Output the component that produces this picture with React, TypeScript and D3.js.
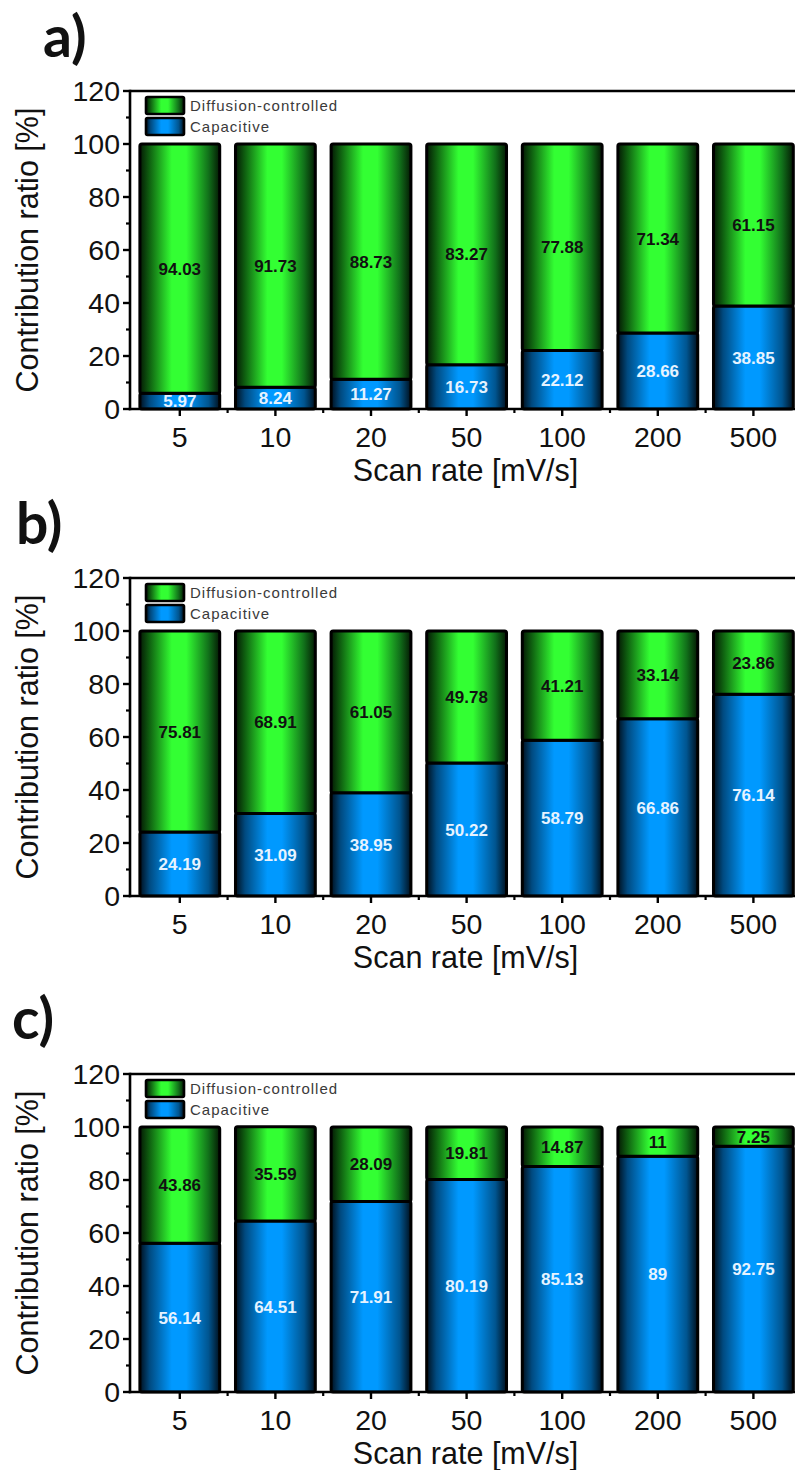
import React from "react";
import * as d3 from "d3";

// Scan rates (mV/s) shown along the x axis
const scanRates = ["5", "10", "20", "50", "100", "200", "500"];

// Panel a
const capacitiveA = [5.97, 8.24, 11.27, 16.73, 22.12, 28.66, 38.85];
const diffusionA = [94.03, 91.73, 88.73, 83.27, 77.88, 71.34, 61.15];

// Panel b
const capacitiveB = [24.19, 31.09, 38.95, 50.22, 58.79, 66.86, 76.14];
const diffusionB = [75.81, 68.91, 61.05, 49.78, 41.21, 33.14, 23.86];

// Panel c
const capacitiveC = [56.14, 64.51, 71.91, 80.19, 85.13, 89, 92.75];
const diffusionC = [43.86, 35.59, 28.09, 19.81, 14.87, 11, 7.25];

const yTicks = [0, 20, 40, 60, 80, 100, 120];
const yMinorTicks = [10, 30, 50, 70, 90, 110];
const legendLabels = ["Diffusion-controlled", "Capacitive"];

const W = 795;
const H = 1470;
const AXIS_FONT = "'Liberation Sans', Arial, Helvetica, sans-serif";

interface PanelProps {
  tag: string;
  tagX: number;
  tagY: number;
  top: number;
  capacitive: number[];
  diffusion: number[];
}

function Panel({ tag, tagX, tagY, top, capacitive, diffusion }: PanelProps) {
  const left = 130;
  const plotH = 318;
  const bottom = top + plotH;
  const step = 95.6;
  const right = left + 2 + step * scanRates.length;

  const x = d3
    .scaleBand<string>()
    .domain(scanRates)
    .range([left + 2, right])
    .paddingInner(0.165)
    .paddingOuter(0.0825);
  const y = d3.scaleLinear().domain([0, 120]).range([bottom, top]);

  const bw = x.bandwidth();
  const fmt = (v: number) => String(v);

  // minor x ticks sit halfway between neighbouring categories
  const xMinor = scanRates.slice(1).map((c, i) => {
    const a = (x(scanRates[i]) as number) + bw / 2;
    const b = (x(c) as number) + bw / 2;
    return (a + b) / 2;
  });

  return (
    <g>
      <text
        x={tagX}
        y={tagY}
        fontFamily="Lato, 'Open Sans', sans-serif"
        fontWeight={700}
        fontSize={57}
        fill="#111"
      >
        {tag}
      </text>

      {/* stacked bars */}
      {scanRates.map((c, i) => {
        const x0 = x(c) as number;
        const cap = capacitive[i];
        const dif = diffusion[i];
        const yCapTop = y(cap);
        const yDifTop = y(cap + dif);
        return (
          <g key={c}>
            <rect
              x={x0}
              y={yCapTop}
              width={bw}
              height={y(0) - yCapTop}
              rx={2}
              fill="url(#gradBlue)"
              stroke="#000"
              strokeWidth={3}
            />
            <rect
              x={x0}
              y={yDifTop}
              width={bw}
              height={yCapTop - yDifTop}
              rx={2}
              fill="url(#gradGreen)"
              stroke="#000"
              strokeWidth={3}
            />
            <text
              x={x0 + bw / 2}
              y={(y(0) + yCapTop) / 2}
              dy="0.36em"
              textAnchor="middle"
              fontFamily={AXIS_FONT}
              fontWeight={700}
              fontSize={17}
              fill="#e6f3ff"
            >
              {fmt(cap)}
            </text>
            <text
              x={x0 + bw / 2}
              y={(yCapTop + yDifTop) / 2}
              dy="0.36em"
              textAnchor="middle"
              fontFamily={AXIS_FONT}
              fontWeight={700}
              fontSize={17}
              fill="#111"
            >
              {fmt(dif)}
            </text>
          </g>
        );
      })}

      {/* frame */}
      <line x1={left} x2={W + 20} y1={top} y2={top} stroke="#000" strokeWidth={2.6} />
      <line x1={left - 1.3} x2={W + 20} y1={bottom} y2={bottom} stroke="#000" strokeWidth={2.6} />
      <line x1={left} x2={left} y1={top - 1.3} y2={bottom + 1.3} stroke="#000" strokeWidth={2.6} />

      {/* y ticks */}
      {yTicks.map((t) => (
        <g key={t}>
          <line x1={left - 7} x2={left} y1={y(t)} y2={y(t)} stroke="#000" strokeWidth={2.4} />
          <text
            x={left - 10}
            y={y(t)}
            dy="0.36em"
            textAnchor="end"
            fontFamily={AXIS_FONT}
            fontSize={28.5}
            fill="#111"
          >
            {t}
          </text>
        </g>
      ))}
      {yMinorTicks.map((t) => (
        <line key={t} x1={left - 4} x2={left} y1={y(t)} y2={y(t)} stroke="#000" strokeWidth={2.2} />
      ))}

      {/* x ticks */}
      {scanRates.map((c) => {
        const cx = (x(c) as number) + bw / 2;
        return (
          <g key={c}>
            <line x1={cx} x2={cx} y1={bottom} y2={bottom + 7} stroke="#000" strokeWidth={2.4} />
            <text
              x={cx}
              y={bottom + 38}
              textAnchor="middle"
              fontFamily={AXIS_FONT}
              fontSize={28.5}
              fill="#111"
            >
              {c}
            </text>
          </g>
        );
      })}
      {xMinor.map((m, i) => (
        <line key={i} x1={m} x2={m} y1={bottom} y2={bottom + 4} stroke="#000" strokeWidth={2.2} />
      ))}

      {/* axis titles */}
      <text
        x={(left + right) / 2}
        y={bottom + 72}
        textAnchor="middle"
        fontFamily={AXIS_FONT}
        fontSize={30.5}
        fill="#111"
      >
        Scan rate [mV/s]
      </text>
      <text
        transform={`translate(${38},${(top + bottom) / 2}) rotate(-90)`}
        textAnchor="middle"
        fontFamily={AXIS_FONT}
        fontSize={30.5}
        fill="#111"
      >
        Contribution ratio [%]
      </text>

      {/* legend */}
      {legendLabels.map((lab, i) => (
        <g key={lab}>
          <rect
            x={146}
            y={top + 6 + i * 21}
            width={38}
            height={17}
            rx={1.5}
            fill={i === 0 ? "url(#gradGreen)" : "url(#gradBlue)"}
            stroke="#000"
            strokeWidth={2.6}
          />
          <text
            x={190}
            y={top + 15 + i * 21}
            dy="0.36em"
            fontFamily={AXIS_FONT}
            fontSize={15}
            letterSpacing={1}
            fill="#3a3a3a"
          >
            {lab}
          </text>
        </g>
      ))}
    </g>
  );
}

export default function App() {
  return (
    <svg
      width={W}
      height={H}
      viewBox={`0 0 ${W} ${H}`}
      style={{ position: "absolute", left: 0, top: 0, display: "block", background: "#fff" }}
    >
      <defs>
        <linearGradient id="gradGreen" x1="0" x2="1" y1="0" y2="0">
          <stop offset="0" stopColor="#041a04" />
          <stop offset="0.12" stopColor="#0f6010" />
          <stop offset="0.4" stopColor="#33ff33" />
          <stop offset="0.58" stopColor="#33ff33" />
          <stop offset="0.86" stopColor="#11701a" />
          <stop offset="1" stopColor="#041a04" />
        </linearGradient>
        <linearGradient id="gradBlue" x1="0" x2="1" y1="0" y2="0">
          <stop offset="0" stopColor="#00101e" />
          <stop offset="0.12" stopColor="#004a80" />
          <stop offset="0.4" stopColor="#0099ff" />
          <stop offset="0.58" stopColor="#0099ff" />
          <stop offset="0.86" stopColor="#005590" />
          <stop offset="1" stopColor="#00101e" />
        </linearGradient>
      </defs>
      <Panel tag="a)" tagX={43} tagY={57} top={91} capacitive={capacitiveA} diffusion={diffusionA} />
      <Panel tag="b)" tagX={16} tagY={544} top={578} capacitive={capacitiveB} diffusion={diffusionB} />
      <Panel tag="c)" tagX={12} tagY={1039} top={1074} capacitive={capacitiveC} diffusion={diffusionC} />
    </svg>
  );
}
